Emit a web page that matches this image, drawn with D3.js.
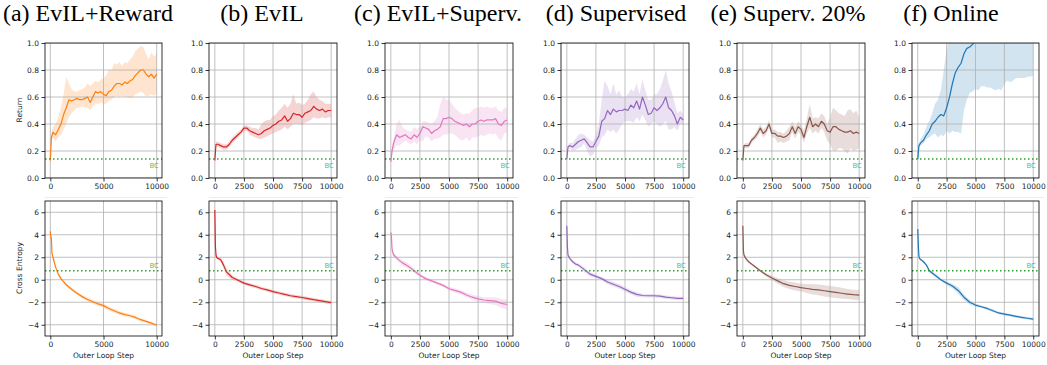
<!DOCTYPE html>
<html>
<head>
<meta charset="utf-8">
<script src="https://cdn.jsdelivr.net/npm/d3@7"></script>
<style>
  body { margin: 0; background: #fff; }
  svg { display: block; }
  text.title { font-family: "Liberation Serif", Tinos, "Times New Roman" !important; font-weight: normal; }
</style>
</head>
<body>
<svg id="chart" width="1047" height="365"></svg>
<script>
// ---- data ----
const titles = ["(a) EvIL+Reward", "(b) EvIL", "(c) EvIL+Superv.", "(d) Supervised", "(e) Superv. 20%", "(f) Online"];
const colors = ["#ff7f0e", "#d62728", "#e377c2", "#9467bd", "#8c564b", "#1f77b4"];

const retSteps = [0, 100, 250, 500, 750, 1000, 1250, 1500, 1750, 2000,
  2250, 2500, 2750, 3000, 3250, 3500, 3750, 4000, 4250, 4500,
  4750, 5000, 5250, 5500, 5750, 6000, 6250, 6500, 6750, 7000,
  7250, 7500, 7750, 8000, 8250, 8500, 8750, 9000, 9250, 9500,
  9750, 10000];
const ceSteps = [0, 50, 100, 150, 250, 500, 750, 1000,
  1500, 2000, 2500, 3000, 3500, 4000, 4500, 5000, 5500, 6000,
  6500, 7000, 7500, 8000, 8500, 9000, 9500, 10000];

const retTicks = [0, 0.2, 0.4, 0.6, 0.8, 1.0];
const ceTicks = [-4, -2, 0, 2, 4, 6];
const stepTicksA = [0, 5000, 10000];
const stepTicks = [0, 2500, 5000, 7500, 10000];
const bcReturn = 0.14;
const bcCrossEntropy = 0.8;

// (a) EvIL+Reward
const retMeanA = [.13,.30,.34,.32,.36,.40,.47,.52,.58,.57, .58,.59,.58,.58,.59,.60,.56,.60,.64,.63, .64,.62,.61,.64,.65,.68,.70,.70,.69,.71, .70,.72,.73,.76,.78,.80,.80,.77,.75,.77, .74,.77];
const retHighA = [.15,.33,.38,.40,.45,.52,.62,.75,.70,.66, .64,.64,.65,.66,.67,.70,.68,.70,.72,.71, .73,.74,.76,.80,.80,.85,.84,.86,.83,.86, .85,.88,.90,.94,.96,.98,.97,.92,.88,.93, .90,.92];
const retLowA  = [.11,.26,.30,.27,.30,.32,.36,.40,.45,.48, .50,.52,.52,.53,.52,.52,.50,.53,.55,.55, .56,.55,.55,.57,.58,.60,.61,.60,.61,.60, .60,.59,.60,.62,.63,.64,.63,.60,.61,.62, .61,.63];
const ceMeanA   = [4.3,3.8,3.7,2.4,2.0,1.1,0.5,0.1, -0.45,-0.85,-1.2,-1.5,-1.75,-1.95,-2.15,-2.3,-2.55,-2.75, -2.95,-3.1,-3.2,-3.35,-3.55,-3.7,-3.85,-4.05];
const ceSpreadA = [.2,.2,.2,.2,.15,.15,.15,.15, .15,.15,.15,.15,.18,.18,.18,.18,.18,.18, .18,.15,.15,.15,.15,.12,.12,.12];

// (b) EvIL
const retMeanB = [.13,.25,.25,.24,.23,.23,.25,.28,.30,.32, .34,.37,.37,.35,.34,.33,.32,.33,.35,.36, .37,.39,.40,.42,.43,.46,.42,.44,.48,.47, .47,.45,.48,.49,.50,.53,.51,.50,.51,.49, .50,.50];
const retHighB = [.14,.27,.27,.26,.25,.25,.27,.30,.32,.34, .36,.39,.39,.38,.37,.37,.36,.40,.42,.43, .43,.46,.47,.50,.52,.55,.52,.55,.62,.55, .56,.54,.55,.58,.62,.64,.60,.58,.57,.55, .55,.55];
const retLowB  = [.12,.23,.23,.22,.21,.21,.23,.26,.28,.30, .32,.35,.35,.32,.31,.30,.29,.29,.30,.31, .32,.33,.34,.35,.36,.38,.36,.38,.40,.40, .40,.39,.41,.42,.43,.45,.44,.44,.45,.44, .45,.45];
const ceMeanB   = [6.2,3.0,2.2,2.0,1.9,1.8,1.3,0.7, 0.2,-0.05,-0.3,-0.45,-0.6,-0.78,-0.9,-1.05,-1.18,-1.3, -1.42,-1.5,-1.58,-1.67,-1.77,-1.85,-1.95,-2.03];
const ceSpreadB = [.8,.3,.15,.15,.12,.15,.3,.3, .2,.15,.15,.15,.15,.15,.15,.15,.15,.15, .15,.15,.15,.15,.15,.15,.15,.15];

// (c) EvIL+Superv.
const retMeanC = [.12,.20,.26,.32,.30,.31,.32,.30,.29,.32, .30,.33,.38,.37,.36,.33,.35,.36,.38,.44, .44,.45,.44,.42,.41,.40,.39,.40,.38,.40, .40,.42,.43,.42,.43,.43,.43,.44,.40,.39, .42,.43];
const retHighC = [.13,.24,.30,.40,.43,.38,.36,.35,.34,.38, .36,.38,.42,.42,.41,.40,.42,.45,.55,.60, .58,.58,.55,.52,.50,.48,.47,.48,.48,.50, .52,.52,.53,.52,.53,.52,.52,.53,.50,.49, .52,.52];
const retLowC  = [.11,.16,.21,.24,.24,.26,.28,.26,.25,.27, .25,.28,.27,.31,.30,.27,.29,.29,.30,.32, .32,.33,.33,.32,.30,.28,.28,.30,.27,.30, .30,.31,.32,.31,.32,.33,.32,.33,.29,.28, .33,.34];
const ceMeanC   = [4.2,3.9,2.8,2.5,2.2,1.95,1.7,1.5, 1.2,0.8,0.4,0.1,-0.1,-0.3,-0.5,-0.8,-0.95,-1.1, -1.35,-1.55,-1.7,-1.8,-1.85,-1.9,-2.1,-2.2];
const ceSpreadC = [.2,.3,.3,.25,.2,.2,.2,.25, .25,.2,.15,.15,.15,.15,.15,.15,.2,.2, .2,.25,.25,.25,.3,.35,.4,.45];

// (d) Supervised
const retMeanD = [.14,.23,.24,.23,.25,.27,.28,.29,.26,.23, .23,.27,.31,.42,.44,.50,.47,.51,.49,.50, .50,.51,.50,.54,.52,.57,.51,.60,.54,.47, .48,.52,.50,.52,.55,.60,.52,.50,.46,.40, .45,.43];
const retHighD = [.15,.25,.26,.26,.29,.32,.33,.32,.30,.28, .27,.32,.40,.58,.72,.68,.62,.70,.62,.65, .60,.60,.62,.66,.64,.70,.62,.73,.65,.58, .58,.62,.62,.66,.72,.80,.70,.64,.56,.48, .50,.47];
const retLowD  = [.13,.21,.22,.20,.21,.22,.23,.26,.20,.16, .17,.22,.24,.30,.32,.36,.34,.36,.33,.36, .40,.42,.42,.42,.41,.45,.42,.47,.43,.38, .40,.42,.40,.38,.40,.42,.36,.36,.38,.35, .40,.39];
const ceMeanD   = [4.8,3.0,2.2,2.1,1.9,1.6,1.4,1.3, 0.9,0.5,0.3,0.1,-0.2,-0.4,-0.6,-0.85,-1.1,-1.3, -1.4,-1.42,-1.42,-1.45,-1.55,-1.6,-1.65,-1.65];
const ceSpreadD = [.3,.4,.2,.15,.15,.15,.15,.15, .2,.2,.15,.15,.2,.2,.2,.2,.2,.2, .15,.15,.15,.15,.15,.15,.15,.15];

// (e) Superv. 20%
const retMeanE = [.13,.24,.24,.24,.28,.30,.33,.37,.33,.35, .40,.33,.33,.31,.31,.30,.31,.33,.38,.33, .38,.36,.30,.38,.45,.38,.40,.38,.42,.40, .35,.34,.38,.38,.36,.35,.34,.34,.35,.33, .34,.33];
const retHighE = [.14,.25,.26,.26,.30,.32,.36,.40,.36,.38, .43,.36,.36,.34,.34,.33,.35,.38,.42,.38, .42,.40,.35,.44,.55,.44,.45,.44,.48,.46, .40,.45,.52,.50,.48,.47,.46,.50,.51,.48, .50,.45];
const retLowE  = [.12,.23,.22,.22,.26,.28,.30,.34,.30,.32, .37,.30,.30,.26,.27,.26,.27,.28,.34,.29, .34,.32,.26,.33,.37,.33,.35,.33,.37,.34, .28,.25,.20,.20,.22,.22,.20,.18,.22,.20, .21,.22];
const ceMeanE   = [4.8,2.6,2.2,2.1,1.9,1.6,1.4,1.2, 0.8,0.45,0.15,-0.1,-0.35,-0.5,-0.6,-0.7,-0.78,-0.85, -0.9,-0.98,-1.05,-1.12,-1.2,-1.27,-1.33,-1.37];
const ceSpreadE = [.3,.3,.15,.1,.1,.1,.1,.1, .12,.15,.2,.25,.3,.32,.35,.35,.4,.45, .48,.5,.5,.5,.48,.45,.45,.45];

// (f) Online
const retMeanF = [.14,.24,.26,.28,.32,.35,.40,.42,.45,.47, .46,.52,.60,.70,.78,.82,.85,.92,.96,.97, .99,1.03,1.06,1.08,1.10,1.12,1.14,1.15,1.16,1.18, 1.20,1.22,1.23,1.25,1.26,1.28,1.29,1.30,1.31,1.32, 1.33,1.34];
const retHighF = [.15,.26,.29,.32,.38,.42,.48,.55,.58,.65, .80,.95,1.05,1.2,1.3,1.35,1.4,1.45,1.5,1.5, 1.5,1.5,1.5,1.5,1.5,1.5,1.5,1.5,1.5,1.5, 1.5,1.5,1.5,1.5,1.5,1.5,1.5,1.5,1.5,1.5, 1.5,1.5];
const retLowF  = [.13,.22,.24,.26,.29,.30,.32,.33,.30,.32, .31,.35,.33,.35,.34,.34,.33,.50,.58,.63, .64,.66,.65,.68,.68,.67,.67,.66,.65,.66, .65,.70,.72,.71,.72,.74,.74,.74,.74,.75, .75,.76];
const ceMeanF   = [4.5,3.0,2.1,1.9,1.8,1.6,1.3,0.8, 0.4,0.0,-0.3,-0.55,-0.95,-1.55,-2.0,-2.25,-2.4,-2.55, -2.75,-2.95,-3.05,-3.15,-3.25,-3.35,-3.42,-3.5];
const ceSpreadF = [.2,.3,.15,.1,.1,.1,.1,.15, .15,.12,.15,.2,.3,.25,.2,.15,.12,.12, .12,.12,.12,.12,.12,.12,.12,.12];

// ---- layout ----
const panelLeft = [45, 209, 385, 561, 737, 912];
const panelWidth = [117, 128, 128, 128, 128, 127];
const titleX = [88, 262, 438, 616, 788, 951];
const topRow = [43, 178];
const bottomRow = [201, 336];
const xDomain = [-500, 10500];

const retMeans = [retMeanA, retMeanB, retMeanC, retMeanD, retMeanE, retMeanF];
const retHighs = [retHighA, retHighB, retHighC, retHighD, retHighE, retHighF];
const retLows = [retLowA, retLowB, retLowC, retLowD, retLowE, retLowF];
const ceMeans = [ceMeanA, ceMeanB, ceMeanC, ceMeanD, ceMeanE, ceMeanF];
const ceSpreads = [ceSpreadA, ceSpreadB, ceSpreadC, ceSpreadD, ceSpreadE, ceSpreadF];

const svg = d3.select("#chart");
const tickFont = '"DejaVu Sans"';
const fmtMinus = d => String(d).replace("-", "\u2212");

function drawAxes(i, rowRange, yDomain, yTicks, yFmt, rows, bcValue, bcAbove, tag) {
  const left = panelLeft[i], width = panelWidth[i];
  const x = d3.scaleLinear().domain(xDomain).range([left, left + width]);
  const y = d3.scaleLinear().domain(yDomain).range([rowRange[1], rowRange[0]]);
  const xTicks = i === 0 ? stepTicksA : stepTicks;
  const g = svg.append("g");
  const clipId = "clip-" + tag + i;

  g.append("clipPath").attr("id", clipId)
    .append("rect").attr("x", left).attr("y", rowRange[0])
    .attr("width", width).attr("height", rowRange[1] - rowRange[0]);

  const plot = g.append("g").attr("clip-path", `url(#${clipId})`);

  // shaded band
  const area = d3.area()
    .x(d => x(d.s)).y0(d => y(d.lo)).y1(d => y(d.hi));
  plot.append("path").datum(rows)
    .attr("d", area)
    .attr("fill", colors[i]).attr("fill-opacity", 0.2).attr("stroke", "none");

  // grid
  plot.selectAll(".gx").data(xTicks).join("line")
    .attr("x1", d => x(d)).attr("x2", d => x(d))
    .attr("y1", rowRange[0]).attr("y2", rowRange[1])
    .attr("stroke", "#b0b0b0").attr("stroke-width", 0.8);
  plot.selectAll(".gy").data(yTicks).join("line")
    .attr("x1", left).attr("x2", left + width)
    .attr("y1", d => y(d)).attr("y2", d => y(d))
    .attr("stroke", "#b0b0b0").attr("stroke-width", 0.8);

  // mean line
  const line = d3.line().x(d => x(d.s)).y(d => y(d.m));
  plot.append("path").datum(rows)
    .attr("d", line)
    .attr("fill", "none").attr("stroke", colors[i]).attr("stroke-width", 1.2)
    .attr("stroke-linejoin", "round");

  // BC baseline
  plot.append("line")
    .attr("x1", left).attr("x2", left + width)
    .attr("y1", y(bcValue)).attr("y2", y(bcValue))
    .attr("stroke", "#2ca02c").attr("stroke-width", 1.5)
    .attr("stroke-dasharray", "1.5,2.5");
  g.append("text")
    .attr("x", left + width - 3)
    .attr("y", bcAbove ? y(bcValue) - 3 : y(bcValue) + 9)
    .attr("text-anchor", "end")
    .style("font-family", tickFont).attr("font-size", 7)
    .attr("fill", "#2ca02c").attr("fill-opacity", 0.75)
    .text("BC");

  // axes
  const ax = g.append("g").attr("transform", `translate(0,${rowRange[1]})`)
    .call(d3.axisBottom(x).tickValues(xTicks).tickSize(3.5).tickPadding(2.5).tickFormat(d3.format("d")));
  const ay = g.append("g").attr("transform", `translate(${left},0)`)
    .call(d3.axisLeft(y).tickValues(yTicks).tickSize(3.5).tickPadding(2.5).tickFormat(yFmt));
  [ax, ay].forEach(a => {
    a.attr("font-family", null).attr("font-size", null);
    a.select(".domain").remove();
    a.selectAll(".tick line").attr("stroke", "#000").attr("stroke-width", 0.8);
    a.selectAll(".tick text").style("font-family", tickFont).style("font-size", "7.5px").attr("fill", "#222");
  });

  // spines
  g.append("rect").attr("x", left).attr("y", rowRange[0])
    .attr("width", width).attr("height", rowRange[1] - rowRange[0])
    .attr("fill", "none").attr("stroke", "#000").attr("stroke-width", 0.8);
}

for (let i = 0; i < 6; i++) {
  const retRows = retSteps.map((s, k) => ({ s, m: retMeans[i][k], lo: retLows[i][k], hi: retHighs[i][k] }));
  const ceRows = ceSteps.map((s, k) => ({
    s, m: ceMeans[i][k], lo: ceMeans[i][k] - ceSpreads[i][k], hi: ceMeans[i][k] + ceSpreads[i][k]
  }));

  drawAxes(i, topRow, [0, 1], retTicks, d3.format(".1f"), retRows, bcReturn, false, "ret");
  drawAxes(i, bottomRow, [-5, 7], ceTicks, fmtMinus, ceRows, bcCrossEntropy, true, "ce");

  // faint strip between rows (left from the cropped source figure)
  svg.append("line")
    .attr("x1", panelLeft[i]).attr("x2", panelLeft[i] + panelWidth[i] + 5)
    .attr("y1", 197.5).attr("y2", 197.5)
    .attr("stroke", "#ececec").attr("stroke-width", 1);
}

// panel titles (serif, like the paper's subcaptions)
svg.selectAll("text.title").data(titles).join("text")
  .attr("class", "title")
  .attr("x", (d, i) => titleX[i]).attr("y", 21)
  .attr("text-anchor", "middle")
  .attr("font-family", "Liberation Serif")
  .attr("font-size", 24)
  .attr("fill", "#000")
  .text(d => d);

// x labels
svg.selectAll("text.xlabel").data(titles).join("text")
  .attr("class", "xlabel")
  .attr("x", (d, i) => panelLeft[i] + panelWidth[i] / 2).attr("y", 358)
  .attr("text-anchor", "middle")
  .style("font-family", tickFont).style("font-size", "7.5px").attr("fill", "#222")
  .text("Outer Loop Step");

// y labels, only on the first column
svg.append("text")
  .attr("transform", "translate(22,110) rotate(-90)")
  .attr("text-anchor", "middle")
  .style("font-family", tickFont).style("font-size", "7.5px").attr("fill", "#222")
  .text("Return");
svg.append("text")
  .attr("transform", "translate(22,268) rotate(-90)")
  .attr("text-anchor", "middle")
  .style("font-family", tickFont).style("font-size", "7.5px").attr("fill", "#222")
  .text("Cross Entropy");
</script>
</body>
</html>
